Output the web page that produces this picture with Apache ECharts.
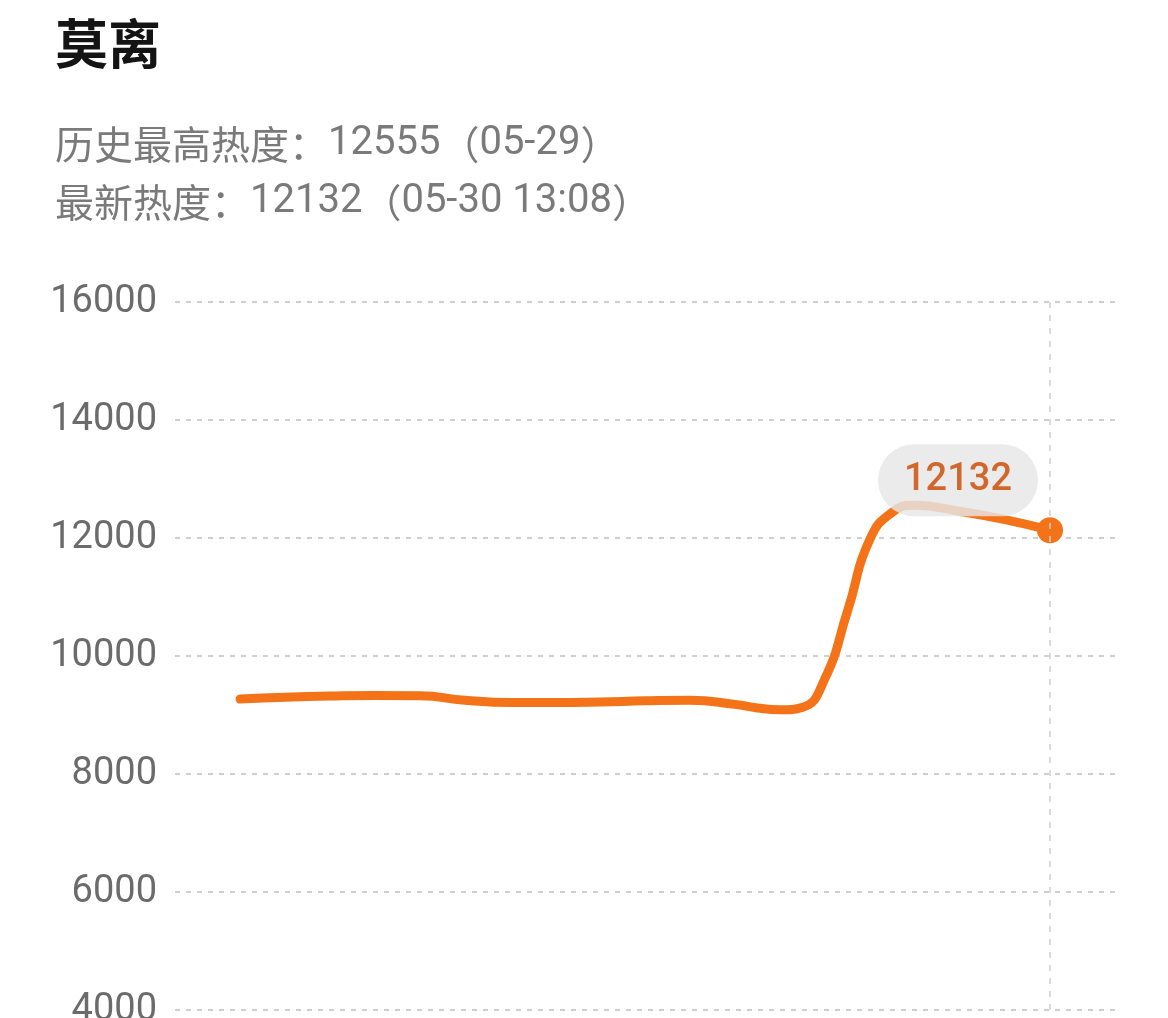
<!DOCTYPE html>
<html>
<head>
<meta charset="utf-8">
<script src="https://cdn.jsdelivr.net/npm/echarts@6/dist/echarts.min.js"></script>
<style>
html,body{margin:0;padding:0;background:#fff;}
#chart{width:1168px;height:1018px;}
</style>
</head>
<body>
<div id="chart"></div>
<script>
// Hours since first sample (latest sample = 05-30 13:08)
const sampleHours = [0, 2, 4, 6, 8, 10, 12, 14, 16, 18, 20, 22, 23, 24, 25, 26, 27, 28, 29, 30, 32, 34, 36];
// Heat values
const heatValues = [9270, 9300, 9320, 9330, 9325, 9250, 9210, 9210, 9220, 9240, 9250, 9180, 9120, 9090, 9130, 9620, 10760, 11980, 12440, 12555, 12450, 12310, 12132];
const yTicks = [4000, 6000, 8000, 10000, 12000, 14000, 16000];
const peakDate = '05-29';
const latestTime = '05-30 13:08';
const titleText = '莫离';

const peak = Math.max(...heatValues);
const latest = heatValues[heatValues.length - 1];
const lastHour = sampleHours[sampleHours.length - 1];

const seriesData = sampleHours.map((h, i) => {
  if (i === sampleHours.length - 1) {
    return {
      value: [h, heatValues[i]],
      symbol: 'circle',
      symbolSize: 26,
      label: {
        show: true,
        position: 'inside',
        offset: [-92, -50],
        formatter: String(heatValues[i]),
        color: '#D2672B',
        fontSize: 38,
        fontWeight: 500,
        fontFamily: 'Roboto',
        backgroundColor: 'rgba(230,230,230,0.82)',
        borderRadius: 40,
        padding: [17, 26]
      }
    };
  }
  return { value: [h, heatValues[i]], symbol: 'none' };
});

const subText =
  '{c|历史最高热度：}{n|' + peak + '}{c|（}{n|' + peakDate + '}{c|）}\n' +
  '{c|最新热度：}{n|' + latest + '}{c|（}{n|' + latestTime + '}{c|）}';

const chart = echarts.init(document.getElementById('chart'), null, { renderer: 'canvas' });
chart.setOption({
  backgroundColor: '#fff',
  animation: false,
  title: [
    {
      text: titleText,
      left: 50, top: 12,
      textStyle: { fontSize: 53, fontWeight: 'bold', color: '#141414', fontFamily: 'Noto Sans CJK SC' }
    },
    {
      text: subText,
      left: 50, top: 110,
      textStyle: {
        lineHeight: 58,
        fontWeight: 'normal',
        rich: {
          c: { fontSize: 39, fontWeight: 'normal', color: '#7a7a7a', lineHeight: 58, fontFamily: 'Noto Sans CJK SC' },
          n: { fontSize: 40, fontWeight: 'normal', color: '#7a7a7a', lineHeight: 58, fontFamily: 'Roboto' }
        }
      }
    }
  ],
  grid: { left: 175, right: 53, top: 302, bottom: 8, outerBoundsMode: 'none', containLabel: false },
  xAxis: {
    type: 'value',
    min: -65 / 22.5,
    max: 36 + 65 / 22.5,
    axisLine: { show: false },
    axisTick: { show: false },
    axisLabel: { show: false },
    splitLine: { show: false }
  },
  yAxis: {
    type: 'value',
    min: yTicks[0],
    max: yTicks[yTicks.length - 1],
    interval: 2000,
    axisLine: { show: false },
    axisTick: { show: false },
    axisLabel: { color: '#6b6b6b', fontSize: 38, fontFamily: 'Roboto', margin: 18, formatter: v => String(v) },
    splitLine: { lineStyle: { color: '#cfcfcf', type: [5, 6], width: 2 } }
  },
  series: [{
    type: 'line',
    smooth: 0.5,
    data: seriesData,
    lineStyle: { color: '#F47318', width: 9, cap: 'round' },
    itemStyle: { color: '#F47318' },
    markLine: {
      silent: true,
      symbol: 'none',
      label: { show: false },
      lineStyle: { color: '#d0d0d0', type: [6, 7], width: 1.5 },
      data: [{ xAxis: lastHour }]
    }
  }]
});
</script>
</body>
</html>
